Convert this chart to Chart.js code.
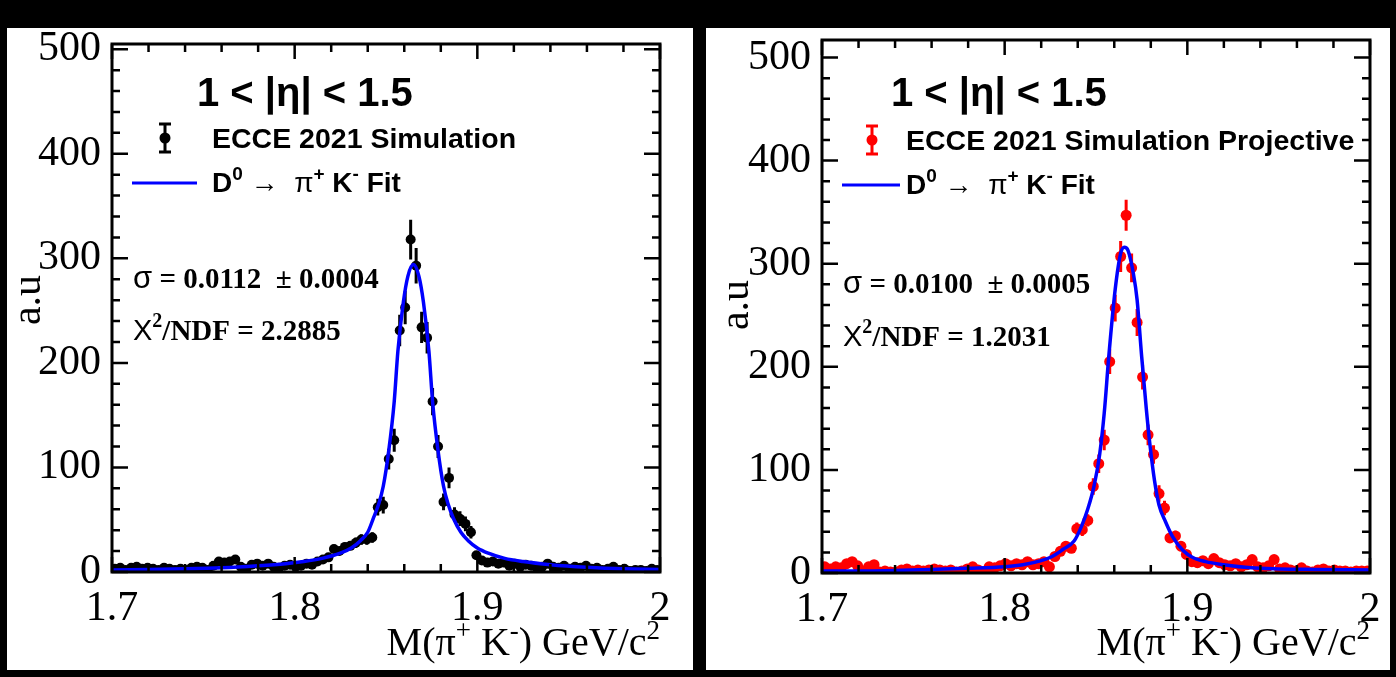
<!DOCTYPE html>
<html>
<head>
<meta charset="utf-8">
<script src="https://cdn.jsdelivr.net/npm/chart.js@4.4.1/dist/chart.umd.min.js"></script>
<style>
    html, body { margin: 0; padding: 0; background: #000; }
    body { width: 1396px; height: 677px; position: relative; overflow: hidden; }
    .panel { position: absolute; background: #fff; }
    #p1 { left: 7px; top: 28px; width: 686px; height: 642px; }
    #p2 { left: 706px; top: 28px; width: 684px; height: 642px; }
    canvas { position: absolute; top: 0; }
    #c1 { left: 0; }
    #c2 { left: 698px; }
</style>
</head>
<body>
<div class="panel" id="p1"></div>
<div class="panel" id="p2"></div>
<canvas id="c1" width="698" height="677"></canvas>
<canvas id="c2" width="698" height="677"></canvas>
<script>
// bin centres of the invariant mass histogram (GeV/c^2)
const massBins = [
    1.7015, 1.7045, 1.7075, 1.7105, 1.7135, 1.7165, 1.7195, 1.7225, 1.7255, 1.7285,
    1.7315, 1.7345, 1.7375, 1.7405, 1.7435, 1.7465, 1.7495, 1.7525, 1.7555, 1.7585,
    1.7615, 1.7645, 1.7675, 1.7705, 1.7735, 1.7765, 1.7795, 1.7825, 1.7855, 1.7885,
    1.7915, 1.7945, 1.7975, 1.8005, 1.8035, 1.8065, 1.8095, 1.8125, 1.8155, 1.8185,
    1.8215, 1.8245, 1.8275, 1.8305, 1.8335, 1.8365, 1.8395, 1.8425, 1.8455, 1.8485,
    1.8515, 1.8545, 1.8575, 1.8605, 1.8635, 1.8665, 1.8695, 1.8725, 1.8755, 1.8785,
    1.8815, 1.8845, 1.8875, 1.8905, 1.8935, 1.8965, 1.8995, 1.9025, 1.9055, 1.9085,
    1.9115, 1.9145, 1.9175, 1.9205, 1.9235, 1.9265, 1.9295, 1.9325, 1.9355, 1.9385,
    1.9415, 1.9445, 1.9475, 1.9505, 1.9535, 1.9565, 1.9595, 1.9625, 1.9655, 1.9685,
    1.9715, 1.9745, 1.9775, 1.9805, 1.9835, 1.9865, 1.9895, 1.9925, 1.9955, 1.9985
];

// left panel: ECCE 2021 Simulation
const simCounts = [
    3, 4, 2, 4, 5, 3, 4, 3, 2, 4,
    3, 2, 3, 2, 4, 5, 4, 2, 6, 10,
    9, 10, 12, 5, 3, 7, 8, 6, 8, 5,
    4, 6, 7, 5, 6, 8, 7, 10, 12, 14,
    22, 20, 24, 25, 28, 31, 31, 33, 62, 64,
    108, 126, 231, 253, 318, 293, 234, 224, 163, 120,
    67, 90, 55, 51, 46, 38, 16, 11, 9, 10,
    8, 9, 6, 8, 5, 7, 6, 4, 5, 8,
    5, 4, 6, 3, 5, 4, 6, 3, 4, 2,
    3, 5, 2, 3, 1, 2, 2, 1, 3, 2
];
const simErrors = [
    2, 2, 2, 2, 2, 2, 2, 2, 2, 2,
    2, 2, 2, 2, 2, 2, 2, 2, 2, 3,
    3, 3, 3, 2, 2, 2, 3, 2, 3, 2,
    2, 2, 2, 2, 2, 3, 2, 3, 3, 3,
    4, 4, 4, 4, 5, 5, 5, 5, 8, 8,
    10, 11, 15, 16, 19, 17, 15, 15, 13, 11,
    8, 10, 7, 7, 7, 6, 4, 3, 3, 3,
    3, 3, 2, 3, 2, 2, 2, 2, 2, 3,
    2, 2, 2, 2, 2, 2, 2, 2, 2, 2,
    2, 2, 2, 2, 2, 2, 2, 2, 2, 2
];
const simFitMass = [
    1.700, 1.720, 1.740, 1.760, 1.780, 1.795, 1.805, 1.815, 1.825, 1.831,
    1.836, 1.840, 1.843, 1.846, 1.8485, 1.8515, 1.8545, 1.8565, 1.8595, 1.862,
    1.865, 1.868, 1.8705, 1.8735, 1.8755, 1.8785, 1.8815, 1.884, 1.887, 1.891,
    1.895, 1.900, 1.906, 1.915, 1.925, 1.940, 1.960, 1.980, 2.000
];
const simFitValues = [
    2, 2.5, 3, 4, 6, 8, 10, 13, 18, 23,
    30, 38, 51, 65, 82, 116, 163, 211, 258, 283,
    294, 283, 258, 211, 163, 116, 82, 65, 51, 38,
    30, 23, 18, 13, 10, 7, 4.5, 3, 2.5
];

// right panel: ECCE 2021 Simulation Projective
const projCounts = [
    6, 4, 6, 5, 9, 11, 7, 2, 6, 8,
    1, 2, 1, 1, 3, 4, 2, 3, 2, 3,
    4, 3, 2, 3, 1, 2, 4, 6, 3, 1,
    6, 5, 7, 9, 7, 9, 8, 11, 8, 9,
    11, 6, 16, 21, 26, 24, 43, 42, 51, 84,
    106, 129, 205, 257, 307, 347, 296, 243, 190, 134,
    115, 77, 63, 34, 36, 26, 18, 11, 10, 12,
    9, 14, 10, 8, 7, 9, 6, 8, 13, 6,
    5, 7, 13, 4, 5, 3, 2, 5, 2, 1,
    3, 4, 2, 3, 2, 2, 1, 2, 2, 2
];
const projErrors = [
    2, 2, 2, 2, 3, 3, 2, 1, 2, 3,
    1, 1, 1, 1, 2, 2, 1, 2, 1, 2,
    2, 2, 1, 2, 1, 1, 2, 2, 2, 1,
    2, 2, 2, 3, 2, 3, 3, 3, 3, 3,
    3, 2, 4, 4, 5, 4, 6, 6, 6, 8,
    9, 10, 12, 13, 15, 15, 14, 13, 12, 10,
    9, 8, 7, 5, 5, 5, 4, 3, 3, 3,
    3, 3, 3, 3, 2, 3, 2, 3, 3, 2,
    2, 2, 3, 2, 2, 2, 1, 2, 1, 1,
    2, 2, 1, 2, 1, 1, 1, 1, 1, 1
];
const projFitMass = [
    1.700, 1.720, 1.740, 1.760, 1.780, 1.800, 1.810, 1.820, 1.826, 1.832,
    1.838, 1.842, 1.8455, 1.849, 1.852, 1.8545, 1.857, 1.8605, 1.8635, 1.8655,
    1.8675, 1.8705, 1.8725, 1.875, 1.8775, 1.8795, 1.882, 1.8845, 1.888, 1.892,
    1.8975, 1.903, 1.910, 1.920, 1.935, 1.950, 1.970, 2.000
];
const projFitValues = [
    2, 2, 2.5, 3.5, 4.5, 6, 8, 12, 16, 23,
    31, 45, 62, 85, 115, 155, 210, 275, 310, 316,
    313, 290, 265, 210, 160, 125, 90, 66, 50, 35,
    22, 15, 11, 8, 5, 4, 3.5, 3
];

const xTickValues = [1.7, 1.8, 1.9, 2.0];
const xTickLabels = ['1.7', '1.8', '1.9', '2'];
const yTickValues = [0, 100, 200, 300, 400, 500];

const SERIF = '"Liberation Serif", "Times New Roman", serif';
const SANS = '"Liberation Sans", Arial, sans-serif';

// draws text made of several pieces (font / vertical shift per piece)
function drawPieces(ctx, x, y, pieces) {
    let cx = x;
    pieces.forEach(p => {
        ctx.font = p.font;
        ctx.fillText(p.t, cx, y + (p.dy || 0));
        cx += ctx.measureText(p.t).width + (p.gap || 0);
    });
    return cx;
}

function measurePieces(ctx, pieces) {
    let w = 0;
    pieces.forEach(p => { ctx.font = p.font; w += ctx.measureText(p.t).width + (p.gap || 0); });
    return w;
}

// error bars under the markers
const errorBars = {
    id: 'errorBars',
    beforeDatasetsDraw(chart) {
        const { ctx, chartArea: a, scales: { x, y } } = chart;
        ctx.save();
        ctx.beginPath();
        ctx.rect(a.left, a.top, a.right - a.left, a.bottom - a.top);
        ctx.clip();
        chart.data.datasets.forEach(ds => {
            if (!ds.errors) return;
            ctx.strokeStyle = ds.backgroundColor;
            ctx.lineWidth = 3;
            ctx.beginPath();
            ds.data.forEach((pt, i) => {
                const px = x.getPixelForValue(pt.x);
                ctx.moveTo(px, y.getPixelForValue(pt.y - ds.errors[i]));
                ctx.lineTo(px, y.getPixelForValue(pt.y + ds.errors[i]));
            });
            ctx.stroke();
        });
        ctx.restore();
    }
};

// ROOT style frame with inward ticks on all four sides
const rootFrame = {
    id: 'rootFrame',
    afterDatasetsDraw(chart) {
        const { ctx, chartArea: a, scales: { x, y } } = chart;
        ctx.save();
        ctx.strokeStyle = '#000';
        ctx.lineWidth = 2.5;
        ctx.beginPath();
        for (let i = 0; i <= 15; i++) {
            const px = x.getPixelForValue(x.min + i * 0.02);
            const len = i % 5 === 0 ? 15 : 8;
            ctx.moveTo(px, a.bottom); ctx.lineTo(px, a.bottom - len);
            ctx.moveTo(px, a.top); ctx.lineTo(px, a.top + len);
        }
        for (let i = 0; i * 20 <= y.max; i++) {
            const py = y.getPixelForValue(i * 20);
            const len = i % 5 === 0 ? 16 : 8;
            ctx.moveTo(a.left, py); ctx.lineTo(a.left + len, py);
            ctx.moveTo(a.right, py); ctx.lineTo(a.right - len, py);
        }
        ctx.stroke();
        ctx.lineWidth = 3;
        ctx.strokeRect(a.left, a.top, a.right - a.left, a.bottom - a.top);
        ctx.restore();
    }
};

// labels, legend and fit results
const panelText = {
    id: 'panelText',
    afterDraw(chart, args, o) {
        const { ctx, chartArea: a } = chart;
        ctx.save();
        ctx.fillStyle = '#000';
        ctx.textBaseline = 'alphabetic';
        ctx.textAlign = 'left';

        // eta range
        ctx.font = 'bold 40px ' + SANS;
        ctx.fillText('1 < |η| < 1.5', o.etaX, o.etaY);

        // legend: data marker with error bar
        ctx.strokeStyle = o.color;
        ctx.fillStyle = o.color;
        ctx.lineWidth = 3;
        ctx.beginPath();
        ctx.moveTo(o.markX, o.markY - 14); ctx.lineTo(o.markX, o.markY + 14);
        ctx.moveTo(o.markX - 6, o.markY - 14); ctx.lineTo(o.markX + 6, o.markY - 14);
        ctx.moveTo(o.markX - 6, o.markY + 14); ctx.lineTo(o.markX + 6, o.markY + 14);
        ctx.stroke();
        ctx.beginPath();
        ctx.arc(o.markX, o.markY, 5.5, 0, Math.PI * 2);
        ctx.fill();
        ctx.fillStyle = '#000';
        ctx.font = 'bold 28.5px ' + SANS;
        ctx.fillText(o.label, o.textX, o.markY + 10);

        // legend: fit line
        ctx.strokeStyle = '#0000ff';
        ctx.lineWidth = 3;
        ctx.beginPath();
        ctx.moveTo(o.lineX0, o.lineY); ctx.lineTo(o.lineX1, o.lineY);
        ctx.stroke();
        const b = 'bold 28px ' + SANS, bs = 'bold 19px ' + SANS;
        drawPieces(ctx, o.textX, o.lineY + 9, [
            { t: 'D', font: b }, { t: '0', font: bs, dy: -12 },
            { t: ' → ', font: b }, { t: ' π', font: '28px ' + SANS },
            { t: '+', font: bs, dy: -12 }, { t: ' K', font: b },
            { t: '-', font: bs, dy: -12 }, { t: ' Fit', font: b }
        ]);

        // fit results
        const sb = 'bold 29px ' + SERIF;
        drawPieces(ctx, o.resX, o.sigmaY, [
            { t: 'σ', font: '31px ' + SANS }, { t: ' = ' + o.sigma + '  ± ' + o.sigmaErr, font: sb }
        ]);
        drawPieces(ctx, o.resX, o.chiY, [
            { t: 'X', font: '29px ' + SANS }, { t: '2', font: 'bold 20px ' + SERIF, dy: -13 },
            { t: '/NDF = ' + o.chi2, font: sb }
        ]);

        // axis titles
        ctx.save();
        ctx.translate(o.yTitleX, o.yTitleY);
        ctx.rotate(-Math.PI / 2);
        ctx.textAlign = 'center';
        ctx.font = '42px ' + SERIF;
        ctx.fillText('a.u', 0, 0);
        ctx.restore();

        const f = '40px ' + SERIF, fs = '27px ' + SERIF;
        const title = [
            { t: 'M(π', font: f }, { t: '+', font: fs, dy: -16 },
            { t: ' K', font: f }, { t: '-', font: fs, dy: -16 },
            { t: ') GeV/c', font: f }, { t: '2', font: fs, dy: -16 }
        ];
        drawPieces(ctx, a.right - measurePieces(ctx, title), o.xTitleY, title);
        ctx.restore();
    }
};

function makePanel(canvasId, counts, errors, fitMass, fitValues, color, yMax, layout, text) {
    const ctx = document.getElementById(canvasId).getContext('2d');
    return new Chart(ctx, {
        type: 'scatter',
        data: {
            datasets: [{
                label: text.label,
                data: massBins.map((m, i) => ({ x: m, y: counts[i] })),
                errors: errors,
                backgroundColor: color,
                borderColor: color,
                pointRadius: text.pointRadius,
                pointBorderWidth: 0,
                showLine: false,
                order: 2
            }, {
                label: 'fit',
                type: 'line',
                data: fitMass.map((m, i) => ({ x: m, y: fitValues[i] })),
                borderColor: '#0000ff',
                borderWidth: 3.5,
                pointRadius: 0,
                fill: false,
                cubicInterpolationMode: 'monotone',
                order: 1
            }]
        },
        options: {
            responsive: false,
            animation: false,
            devicePixelRatio: 1,
            layout: { padding: layout.padding },
            plugins: {
                legend: { display: false },
                tooltip: { enabled: false },
                panelText: text
            },
            scales: {
                x: {
                    type: 'linear',
                    min: 1.7,
                    max: 2.0,
                    afterFit(s) { s.height = layout.xAxisHeight; },
                    afterBuildTicks(s) { s.ticks = xTickValues.map(v => ({ value: v })); },
                    grid: { display: false },
                    border: { display: false },
                    ticks: {
                        autoSkip: false,
                        maxRotation: 0,
                        padding: layout.xTickPad,
                        color: '#000',
                        font: { family: SERIF, size: 42 },
                        callback: (v, i) => xTickLabels[i]
                    }
                },
                y: {
                    type: 'linear',
                    min: 0,
                    max: yMax,
                    afterFit(s) { s.width = layout.yAxisWidth; },
                    afterBuildTicks(s) { s.ticks = yTickValues.map(v => ({ value: v })); },
                    grid: { display: false },
                    border: { display: false },
                    ticks: {
                        autoSkip: false,
                        padding: 3,
                        color: '#000',
                        font: { family: SERIF, size: 42 },
                        callback: v => String(v)
                    }
                }
            }
        },
        plugins: [errorBars, rootFrame, panelText]
    });
}

makePanel('c1', simCounts, simErrors, simFitMass, simFitValues, '#000000', 505,
    { padding: { left: 0, top: 44, right: 38, bottom: 45 }, xAxisHeight: 60, yAxisWidth: 112, xTickPad: 4 },
    {
        label: 'ECCE 2021 Simulation', color: '#000000', pointRadius: 5,
        etaX: 197, etaY: 106,
        markX: 165, markY: 138, textX: 212,
        lineX0: 132, lineX1: 197, lineY: 183,
        resX: 133, sigma: '0.0112', sigmaErr: '0.0004', sigmaY: 288,
        chi2: '2.2885', chiY: 340,
        yTitleX: 40, yTitleY: 300, xTitleY: 655
    });

makePanel('c2', projCounts, projErrors, projFitMass, projFitValues, '#ff0000', 517,
    { padding: { left: 0, top: 40, right: 26, bottom: 44 }, xAxisHeight: 60, yAxisWidth: 124, xTickPad: 4 },
    {
        label: 'ECCE 2021 Simulation Projective', color: '#ff0000', pointRadius: 5.5,
        etaX: 193, etaY: 106,
        markX: 174, markY: 140, textX: 208,
        lineX0: 144, lineX1: 202, lineY: 185,
        resX: 145, sigma: '0.0100', sigmaErr: '0.0005', sigmaY: 293,
        chi2: '1.2031', chiY: 346,
        yTitleX: 50, yTitleY: 305, xTitleY: 655
    });
</script>
</body>
</html>
